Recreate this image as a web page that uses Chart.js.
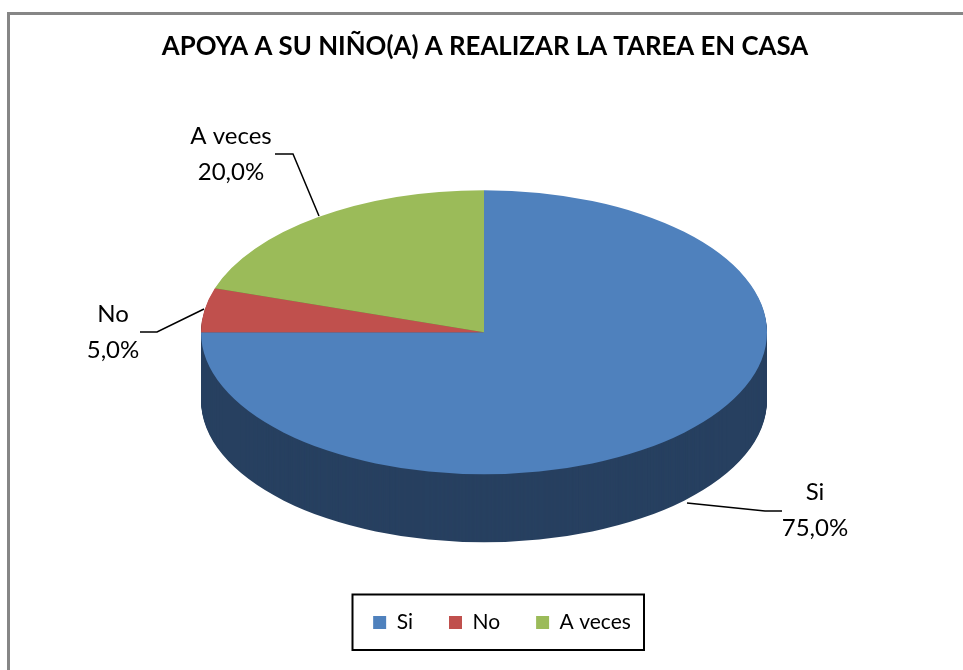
<!DOCTYPE html>
<html>
<head>
<meta charset="utf-8">
<title>Apoya a su niño(a)</title>
<script src="https://cdn.jsdelivr.net/npm/chart.js@4"></script>
<style>
  html, body { margin: 0; padding: 0; background: #fff; overflow: hidden; }
  canvas { display: block; }
</style>
</head>
<body>
<canvas id="tareaCasa" width="963" height="670"></canvas>
<script>
const categorias = ['Si', 'No', 'A veces'];
const valores = [75, 5, 20];
const colores = ['#4F81BD', '#C0504D', '#9BBB59'];
const coloresLado = ['#274060', '#74302E', '#5E7136'];

const TITULO = 'APOYA A SU NIÑO(A) A REALIZAR LA TAREA EN CASA';
const FUENTE = 'Lato, "Open Sans", sans-serif';

// achatado del pastel y altura del costado
const RADIO = 283;
const ACHATADO = 142 / 283;
const ALTO_LADO = 68;

// donde van las etiquetas y sus lineas guia (mismo orden que categorias)
const etiquetas = [
    { x: 815, y: 492, guia: [[687, 503], [765, 511], [782, 511]] },
    { x: 113, y: 314, guia: [[140, 332], [157, 332], [204, 309]] },
    { x: 231, y: 136, guia: [[275, 154], [293, 154], [319, 216]] }
];

const pastel3d = {
    id: 'pastel3d',
    beforeDatasetDraw(chart, args) {
        const ctx = chart.ctx;
        const arcos = args.meta.data;
        const { x, y } = arcos[0];
        // costado: el mismo sector repetido hacia abajo
        for (let d = ALTO_LADO; d > 0; d--) {
            arcos.forEach((arco, i) => {
                ctx.save();
                ctx.translate(x, y + d);
                ctx.scale(1, ACHATADO);
                ctx.translate(-x, -y);
                ctx.fillStyle = coloresLado[i];
                ctx.beginPath();
                ctx.moveTo(x, y);
                ctx.arc(x, y, arco.outerRadius, arco.startAngle, arco.endAngle);
                ctx.closePath();
                ctx.fill();
                ctx.restore();
            });
        }
        ctx.save();
        ctx.translate(x, y);
        ctx.scale(1, ACHATADO);
        ctx.translate(-x, -y);
    },
    afterDatasetDraw(chart) {
        chart.ctx.restore();
    }
};

const marcos = {
    id: 'marcos',
    afterLayout(chart) {
        // leyenda centrada en su recuadro, no en el grafico
        const dx = 502 - (chart.legend.left + chart.legend.right) / 2;
        chart.legend.left += dx;
        chart.legend.right += dx;
        // el titulo va un poco a la derecha del centro
        chart.titleBlock.left += 1;
        chart.titleBlock.right += 1;
    },
    beforeDraw(chart) {
        const ctx = chart.ctx;
        ctx.save();
        ctx.strokeStyle = '#868686';
        ctx.lineWidth = 3;
        ctx.beginPath();
        ctx.moveTo(8.5, 670);
        ctx.lineTo(8.5, 13.5);
        ctx.lineTo(963, 13.5);
        ctx.stroke();
        ctx.strokeStyle = '#000';
        ctx.lineWidth = 2;
        ctx.strokeRect(352.5, 594.5, 291.5, 55.5);
        ctx.restore();
    },
    afterDraw(chart) {
        const ctx = chart.ctx;
        ctx.save();
        ctx.font = '24px ' + FUENTE;
        ctx.fillStyle = '#000';
        ctx.textAlign = 'center';
        ctx.textBaseline = 'middle';
        ctx.strokeStyle = '#000';
        ctx.lineWidth = 1.5;
        etiquetas.forEach((e, i) => {
            ctx.fillText(categorias[i], e.x, e.y);
            ctx.fillText(valores[i].toFixed(1).replace('.', ',') + '%', e.x, e.y + 36);
            ctx.beginPath();
            e.guia.forEach((p, j) => j ? ctx.lineTo(p[0], p[1]) : ctx.moveTo(p[0], p[1]));
            ctx.stroke();
        });
        ctx.restore();
    }
};

new Chart(document.getElementById('tareaCasa'), {
    type: 'pie',
    data: {
        labels: categorias,
        datasets: [{
            data: valores,
            backgroundColor: colores,
            borderWidth: 0,
            radius: RADIO,
            clip: false
        }]
    },
    options: {
        responsive: false,
        animation: false,
        layout: { padding: { left: 5, right: 0, top: 0, bottom: 27 } },
        plugins: {
            title: {
                display: true,
                text: TITULO,
                color: '#000',
                font: { family: FUENTE, size: 25.8, weight: 'bold' },
                padding: { top: 31, bottom: 26.5 }
            },
            legend: {
                position: 'bottom',
                labels: {
                    color: '#000',
                    font: { family: FUENTE, size: 21 },
                    boxWidth: 13,
                    boxHeight: 13,
                    padding: 36
                }
            },
            tooltip: { enabled: false }
        }
    },
    plugins: [pastel3d, marcos]
});
</script>
</body>
</html>
